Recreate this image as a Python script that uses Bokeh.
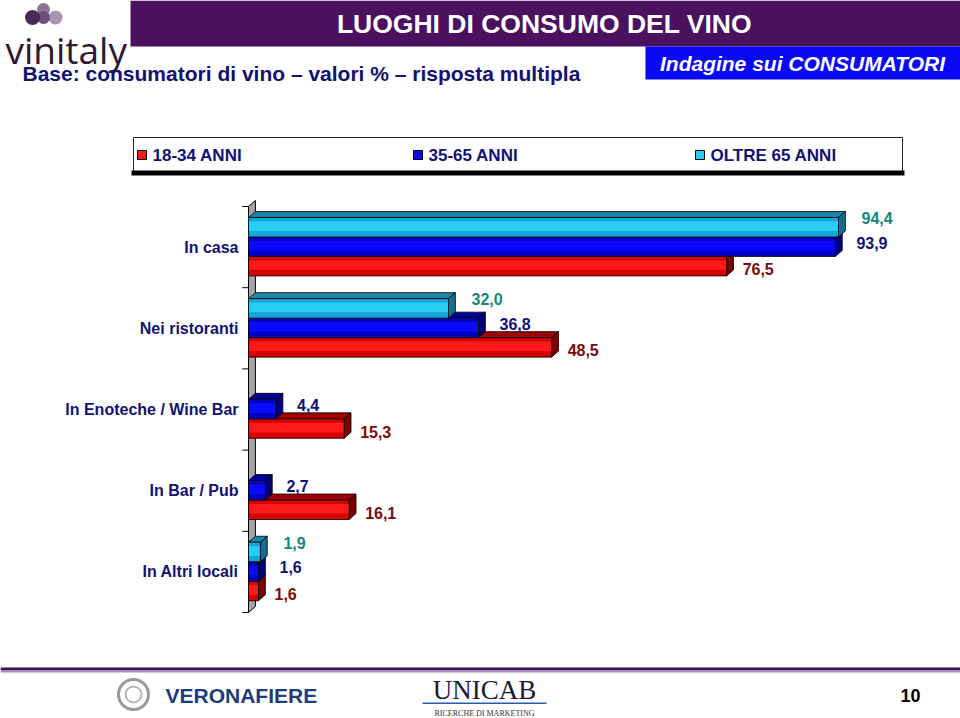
from bokeh.plotting import figure
from bokeh.models import Range1d
from bokeh.embed import file_html
from bokeh.resources import INLINE
from bokeh.core.properties import value

# ---------------- data ----------------
categories = ["In casa", "Nei ristoranti", "In Enoteche / Wine Bar", "In Bar / Pub", "In Altri locali"]
series_names = ["18-34 ANNI", "35-65 ANNI", "OLTRE 65 ANNI"]
v_18_34 = [76.5, 48.5, 15.3, 16.1, 1.6]
v_35_65 = [93.9, 36.8, 4.4, 2.7, 1.6]
v_oltre_65 = [94.4, 32.0, None, None, 1.9]

title = "LUOGHI DI CONSUMO DEL VINO"
subtitle = "Base: consumatori di vino \u2013 valori % \u2013 risposta multipla"
badge = "Indagine sui CONSUMATORI"
page_number = "10"

FONT = value("Liberation Sans")
NAVY = "#12126e"

styles = {
    "18-34 ANNI": dict(base="#d40000", hi="#ff1a1a", top="#a00000", side="#7a0000", lab="#7a0a0a", dx=16, dy=3),
    "35-65 ANNI": dict(base="#0000c4", hi="#0a0aff", top="#000098", side="#00007a", lab="#10106e", dx=21, dy=-4),
    "OLTRE 65 ANNI": dict(base="#14a6d6", hi="#28ccf4", top="#1a86a8", side="#126f8c", lab="#138878", dx=23, dy=-9),
}

# ---------------- page canvas (pixel layout ranges) ----------------
W, H = 960, 718
p = figure(width=W, height=H, x_range=Range1d(0, W), y_range=Range1d(H, 0),
           x_axis_location=None, y_axis_location=None, toolbar_location=None,
           output_backend="svg", min_border=0, outline_line_color=None)
p.grid.visible = False
p.background_fill_color = "white"
p.border_fill_color = "white"

# chart scales: value axis (0 at x=248, 6.25 px per %), category axis (slot 0 top at y=206, 81.2 px per slot)
X0, KX = 248.0, 6.25
Y0, KY = 206.0, 81.2
p.extra_x_ranges = {"val": Range1d(start=-X0 / KX, end=(W - X0) / KX)}
p.extra_y_ranges = {"cat": Range1d(start=(H - Y0) / KY, end=-Y0 / KY)}

# ---------------- header ----------------
p.quad(left=[130], right=[960], top=[0], bottom=[46], fill_color="#4b105e", line_color=None)
p.text(x=[544], y=[23], text=[title], text_font=FONT, text_font_style="bold", text_font_size="26.5px",
       text_color="white", text_align="center", text_baseline="middle")
p.circle(x=[43], y=[9], radius=6.5, fill_color="#8a7592", line_color=None)
p.circle(x=[55], y=[17], radius=7, fill_color="#a896b0", line_color=None)
p.circle(x=[43], y=[17], radius=6.5, fill_color="#6d5177", line_color=None)
p.circle(x=[32], y=[17], radius=7.5, fill_color="#4a2a55", line_color=None)
p.text(x=[5], y=[49], text=["vinitaly"], text_font=value("Open Sans"), text_font_size="37px",
       text_color="#2e1833", text_align="left", text_baseline="alphabetic")
p.text(x=[22], y=[73], text=[subtitle], text_font=FONT, text_font_style="bold", text_font_size="21px",
       text_color=NAVY, text_align="left", text_baseline="middle")
p.quad(left=[645], right=[960], top=[46], bottom=[79], fill_color="#0808f4", line_color=None)
p.text(x=[802], y=[63], text=[badge], text_font=FONT, text_font_style="bold italic", text_font_size="21px",
       text_color="white", text_align="center", text_baseline="middle")

# legend box
p.quad(left=[133], right=[902], top=[137], bottom=[171], fill_color="white", line_color="#222222", line_width=1)
p.quad(left=[131], right=[904], top=[170], bottom=[175], fill_color="black", line_color=None)
legend_x = [137, 413, 695]
for name, lx in zip(series_names, legend_x):
    st = styles[name]
    p.quad(left=[lx], right=[lx + 9], top=[150], bottom=[159], fill_color=st["hi"], line_color="black", line_width=1)
    p.text(x=[lx + 15], y=[155], text=[name], text_font=FONT, text_font_style="bold", text_font_size="17px",
           text_color=NAVY, text_align="left", text_baseline="middle")

# ---------------- chart ----------------
n = len(categories)
DX = 1.1     # 3-D depth along x (value units)
DY = 0.074   # 3-D depth along y (category units)
R = dict(x_range_name="val", y_range_name="cat")

# category labels and boundary ticks
p.text(x=[238] * n, y=[i + 0.5 for i in range(n)], text=categories, y_range_name="cat",
       text_font=FONT, text_font_style="bold", text_font_size="16px", text_color=NAVY,
       text_align="right", text_baseline="middle")
p.segment(x0=[-1.0] * (n + 1), x1=[0] * (n + 1), y0=list(range(n + 1)), y1=list(range(n + 1)),
          line_color="black", line_width=1, **R)

# back wall
p.patches(xs=[[0, 0, DX, DX]], ys=[[n, 0, -DY, n - DY]], fill_color="#a6a6a6", line_color="black",
          line_width=1, **R)

BAR_H = 0.24
BAR_START = 0.135
series_values = {"18-34 ANNI": v_18_34, "35-65 ANNI": v_35_65, "OLTRE 65 ANNI": v_oltre_65}
slot = {"OLTRE 65 ANNI": 0, "35-65 ANNI": 1, "18-34 ANNI": 2}

for name in ["18-34 ANNI", "35-65 ANNI", "OLTRE 65 ANNI"]:
    st = styles[name]
    vals = series_values[name]
    k = slot[name]
    idx = [i for i, v in enumerate(vals) if v is not None]
    vv = [vals[i] for i in idx]
    tops = [i + BAR_START + k * BAR_H for i in idx]
    bots = [t + BAR_H for t in tops]
    p.patches(xs=[[0, v, v + DX, DX] for v in vv], ys=[[t, t, t - DY, t - DY] for t in tops],
              fill_color=st["top"], line_color="black", line_width=0.8, **R)
    p.patches(xs=[[v, v + DX, v + DX, v] for v in vv], ys=[[t, t - DY, b - DY, b] for t, b in zip(tops, bots)],
              fill_color=st["side"], line_color="black", line_width=0.8, **R)
    p.quad(left=[0] * len(vv), right=vv, top=tops, bottom=bots, fill_color=st["base"], line_color=None, **R)
    p.quad(left=[0] * len(vv), right=vv, top=[t + 0.2 * BAR_H for t in tops],
           bottom=[t + 0.7 * BAR_H for t in tops], fill_color=st["hi"], line_color=None, **R)
    p.quad(left=[0] * len(vv), right=vv, top=tops, bottom=bots, fill_alpha=0, line_color="black",
           line_width=0.8, **R)
    p.text(x=vv, y=[t + BAR_H / 2 for t in tops], text=[f"{v:.1f}".replace(".", ",") for v in vv],
           x_offset=st["dx"], y_offset=st["dy"], text_font=FONT, text_font_style="bold",
           text_font_size="16px", text_color=st["lab"], text_align="left", text_baseline="middle", **R)

# ---------------- footer ----------------
p.quad(left=[0], right=[960], top=[667], bottom=[670], fill_color="#3d0f55", line_color=None)
p.quad(left=[0], right=[960], top=[670], bottom=[672], fill_color="#a58db3", line_color=None)
p.circle(x=[133], y=[694], radius=15, fill_color=None, line_color="#9a9a9a", line_width=3)
p.circle(x=[133], y=[694], radius=8, fill_color=None, line_color="#b5b5b5", line_width=2)
p.text(x=[165], y=[695], text=["VERONAFIERE"], text_font=FONT, text_font_style="bold", text_font_size="21px",
       text_color="#1e3c78", text_align="left", text_baseline="middle")
p.text(x=[484], y=[689], text=["UNICAB"], text_font=value("Liberation Serif"), text_font_size="27px",
       text_color="#1a1a3a", text_align="center", text_baseline="middle")
p.quad(left=[422], right=[546], top=[702], bottom=[703.5], fill_color="#2a5aa8", line_color=None)
p.text(x=[484], y=[713], text=["RICERCHE DI MARKETING"], text_font=value("Liberation Serif"),
       text_font_size="8px", text_color="#333333", text_align="center", text_baseline="alphabetic")
p.text(x=[910], y=[695], text=[page_number], text_font=FONT, text_font_style="bold", text_font_size="18px",
       text_color="black", text_align="center", text_baseline="middle")

open("out.html", "w").write(file_html(p, INLINE))
